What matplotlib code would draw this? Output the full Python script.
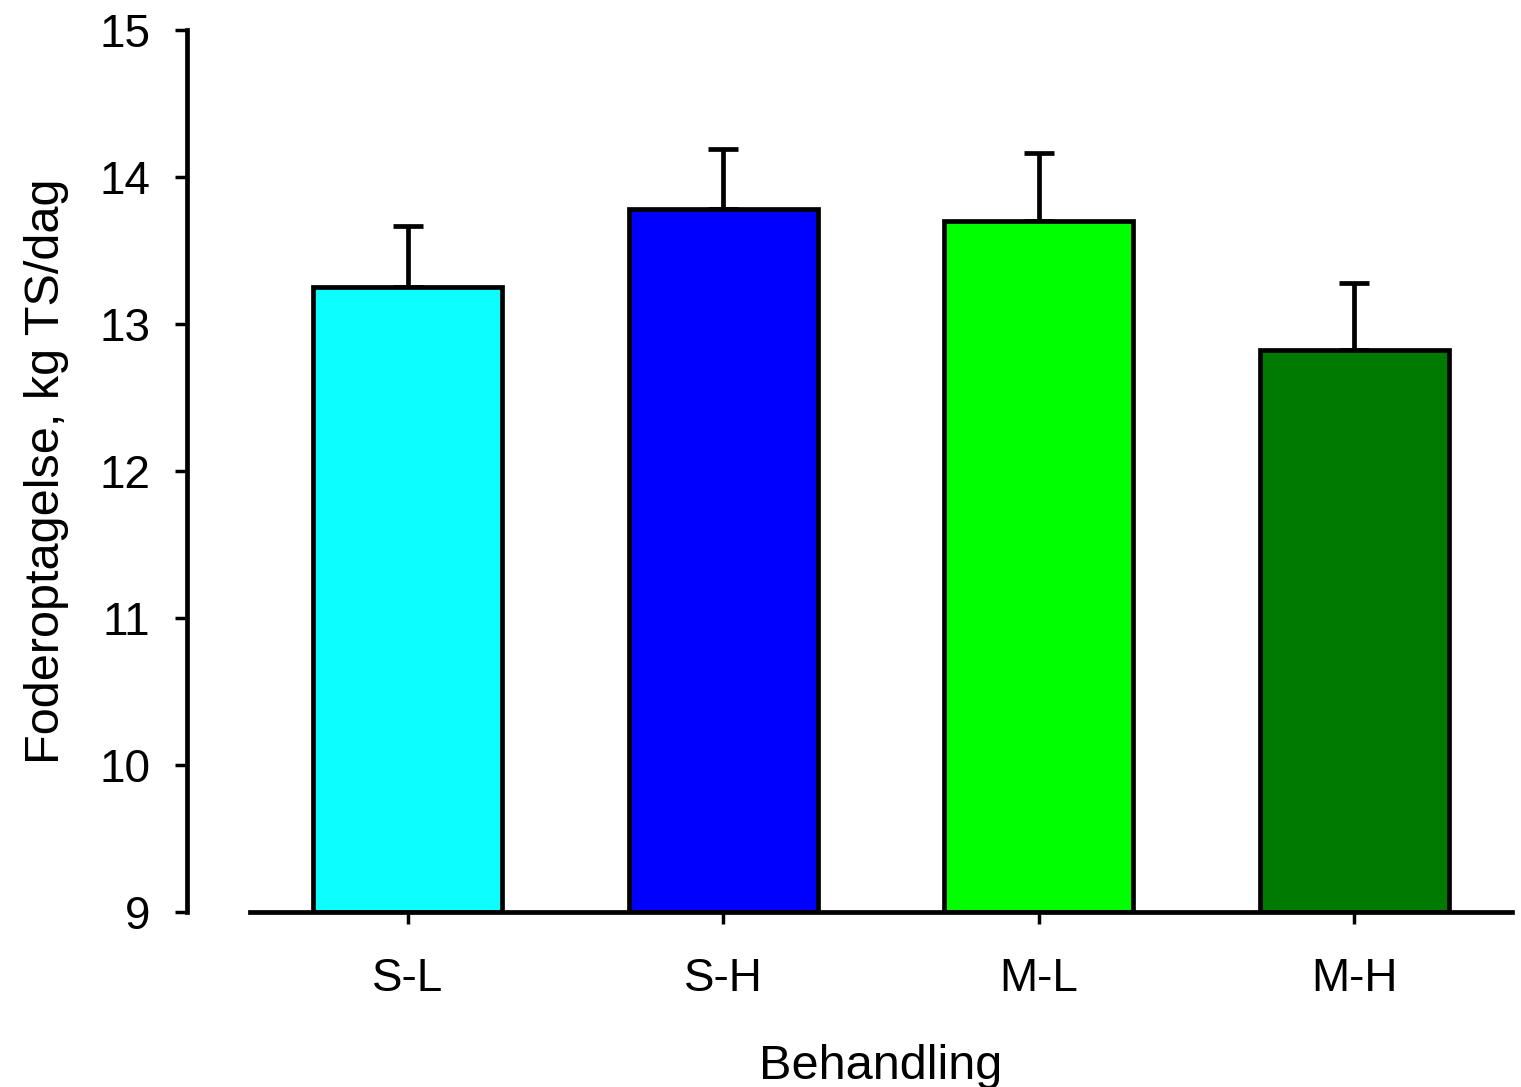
import matplotlib.pyplot as plt

plt.rcParams['font.family'] = ['Liberation Sans', 'DejaVu Sans']

# data
categories = ['S-L', 'S-H', 'M-L', 'M-H']
means = [13.25, 13.78, 13.70, 12.82]
err_upper = [0.42, 0.41, 0.46, 0.46]
colors = ['#0cffff', '#0000ff', '#00ff00', '#007a00']

fig = plt.figure(figsize=(15.21, 10.87), dpi=100)
ax = fig.add_axes([250 / 1521, 1 - 912 / 1087, 1262 / 1521, 882 / 1087])

x = range(len(categories))
ax.bar(x, [m - 9 for m in means], bottom=9, width=0.6, color=colors,
       edgecolor='black', linewidth=3.4, zorder=2)
ax.errorbar(x, means, yerr=[[0] * 4, err_upper], fmt='none', ecolor='black',
            elinewidth=3.4, capsize=11, capthick=3.4, zorder=1)

ax.set_xlim(-0.5, 3.5)
ax.set_ylim(9, 15)
ax.set_yticks(range(9, 16))
ax.set_xticks(list(x))
ax.set_xticklabels(categories)

ax.spines['top'].set_visible(False)
ax.spines['right'].set_visible(False)
ax.spines['left'].set_position(('outward', 45))
ax.spines['left'].set_linewidth(3.4)
ax.spines['bottom'].set_linewidth(3.4)
ax.tick_params(axis='both', direction='out', length=8.6, width=2.5,
               labelsize=33)
ax.tick_params(axis='y', pad=18)
ax.tick_params(axis='x', pad=24)

ax.set_xlabel('Behandling', fontsize=35, labelpad=31)
ax.set_ylabel('Foderoptagelse, kg TS/dag', fontsize=35, labelpad=22)

fig.savefig('out.png', dpi=100)
